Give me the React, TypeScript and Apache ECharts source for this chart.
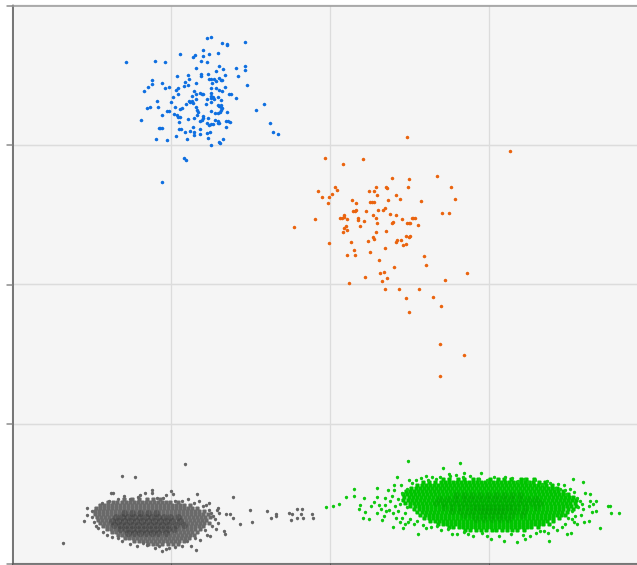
import React, { useEffect, useRef } from "react";
import * as echarts from "echarts";

type P = [number, number];

const xTickStep = 159;
const yTickStep = 139.5;

const blue: P[] = [[195,525],[199,526],[210,520],[215,519],[215,518],[233,521],[114,501],[143,502],[153,501],[168,509],[191,513],[197,509],[206,510],[181,506],[183,508],[191,507],[189,502],[195,501],[207,497],[224,495],[233,497],[233,493],[184,495],[211,494],[204,492],[176,488],[165,487],[189,489],[189,487],[196,489],[213,488],[226,487],[177,484],[197,484],[199,484],[202,484],[207,485],[204,482],[209,483],[210,483],[200,480],[140,483],[140,479],[150,480],[136,476],[157,476],[153,475],[173,481],[172,477],[176,478],[184,480],[199,475],[204,475],[207,473],[210,472],[213,476],[235,478],[132,472],[166,475],[164,473],[166,469],[161,466],[145,462],[159,461],[180,467],[182,472],[184,469],[188,470],[190,469],[191,469],[199,470],[199,467],[201,466],[199,465],[202,464],[206,466],[209,463],[217,469],[219,469],[224,465],[195,464],[184,464],[180,462],[178,461],[174,459],[177,462],[181,460],[194,459],[199,461],[206,458],[207,457],[209,458],[210,455],[209,456],[252,459],[138,456],[135,455],[146,456],[163,456],[168,454],[170,455],[184,456],[185,453],[186,451],[199,452],[209,453],[155,452],[157,452],[244,453],[215,451],[203,450],[206,450],[208,451],[150,448],[162,449],[165,448],[166,446],[168,446],[185,448],[191,447],[191,445],[176,444],[182,445],[196,445],[188,442],[190,443],[203,443],[206,442],[207,440],[214,442],[216,442],[218,441],[129,443],[167,441],[258,440],[195,440],[197,438],[199,439],[201,439],[206,440],[214,436],[147,435],[148,435],[150,435],[181,436],[167,434],[169,434],[173,431],[178,432],[182,431],[188,434],[188,429],[182,428],[195,430],[198,431],[261,431],[266,429],[164,427],[144,424],[155,423],[175,424],[196,425],[211,424],[207,421],[208,420],[199,418],[172,405],[174,403],[150,381]];

const orange: P[] = [[395,426],[498,412],[313,405],[351,404],[331,399],[380,385],[397,384],[425,387],[323,376],[325,373],[306,372],[320,369],[310,366],[317,366],[316,360],[357,372],[362,372],[364,376],[374,376],[375,375],[396,376],[439,376],[365,368],[384,368],[388,364],[376,363],[443,364],[409,362],[340,363],[344,360],[358,361],[360,361],[362,361],[373,355],[371,353],[366,353],[354,352],[344,353],[343,352],[341,352],[430,350],[437,350],[378,349],[384,348],[361,348],[364,345],[332,348],[332,346],[330,345],[328,345],[335,344],[346,345],[346,343],[352,342],[303,344],[390,344],[400,345],[401,345],[403,345],[381,341],[380,340],[365,340],[395,340],[397,340],[398,340],[406,338],[282,336],[348,337],[334,337],[332,335],[335,333],[331,331],[364,331],[374,332],[361,326],[362,324],[356,322],[394,327],[398,327],[397,326],[385,323],[389,323],[384,321],[394,319],[391,318],[339,321],[317,320],[373,315],[342,313],[358,311],[343,308],[335,308],[412,307],[367,303],[414,298],[382,296],[455,290],[372,291],[368,290],[375,285],[353,286],[433,283],[370,282],[337,280],[373,274],[387,274],[407,274],[394,265],[421,266],[429,257],[397,251],[428,219],[452,208],[428,187]];

const grayLoose: P[] = [[173,99],[110,87],[123,86],[51,20],[140,73],[140,70],[133,70],[159,72],[161,69],[185,69],[221,66],[99,70],[101,70],[197,60],[238,53],[255,52],[285,54],[290,54],[300,49],[277,50],[280,49],[289,49],[264,49],[264,47],[259,45],[279,43],[285,45],[291,45],[301,45],[240,41],[228,39],[214,49],[218,49],[221,45],[206,55],[207,50],[212,32],[213,29],[75,55],[75,48],[72,42],[184,13],[179,17],[150,12],[143,15],[118,19],[135,18],[157,15],[163,16],[170,17],[106,25],[95,28],[84,37],[198,27],[195,28],[204,34],[206,40],[201,47],[205,53],[197,53],[191,57],[182,60],[170,62],[163,62],[151,65],[145,65],[126,66],[118,64],[106,64],[97,62],[90,60],[80,52],[80,46],[82,41],[86,35],[91,31],[100,26],[110,22],[125,17],[131,20],[147,17],[154,14],[175,22],[183,25],[188,23],[193,33],[200,37],[203,44],[199,50],[194,58],[187,62],[176,64],[128,68],[112,67],[154,68]];

const grayRows: [number, number[]][] = [
  [64,[112,120,127,135,141,148]],
  [61,[96,101,105,110,114,118,122,126,130,134,138,142,146,150,154,158,166]],
  [58,[88,92,96,100,104,108,112,116,120,124,128,132,136,140,144,148,152,156,160,164,168,172,178]],
  [55,[84,88,92,96,100,104,108,112,116,120,124,128,132,136,140,144,148,152,156,160,164,168,172,176,180,185]],
  [52,[83,87,91,95,99,103,107,111,115,119,123,127,131,135,139,143,147,151,155,159,163,167,171,175,179,183,187,192]],
  [49,[83,87,91,95,99,103,107,111,115,119,123,127,131,135,139,143,147,151,155,159,163,167,171,175,179,183,187,191,196]],
  [46,[85,89,93,97,101,105,109,113,117,121,125,129,133,137,141,145,149,153,157,161,165,169,173,177,181,185,189,193,198]],
  [43,[86,90,94,98,102,106,110,114,118,122,126,130,134,138,142,146,150,154,158,162,166,170,174,178,182,186,190,194]],
  [40,[88,92,96,100,104,108,112,116,120,124,128,132,136,140,144,148,152,156,160,164,168,172,176,180,184,188,192,197]],
  [37,[91,95,99,103,107,111,115,119,123,127,131,135,139,143,147,151,155,159,163,167,171,175,179,183,187,191]],
  [34,[95,99,103,107,111,115,119,123,127,131,135,139,143,147,151,155,159,163,167,171,175,179,183,188]],
  [31,[100,104,108,112,116,120,124,128,132,136,140,144,148,152,156,160,164,168,172,176,180,185]],
  [28,[106,110,114,118,122,126,130,134,138,142,146,150,154,158,162,166,170,174,178,182]],
  [25,[113,117,121,125,129,133,137,141,145,149,153,157,161,165,169,173,177]],
  [22,[122,127,131,135,139,143,147,151,155,159,163,167,172]],
  [19,[136,141,145,150,156,161,166]],
];

const grayCoreRows: [number, number[]][] = [
  [50,[112,120,128,136,144]],
  [46,[104,110,116,122,128,134,140,146,152,158,166]],
  [42,[100,106,112,118,124,130,136,142,148,154,160,168]],
  [38,[102,108,114,120,126,132,138,144,150,156,164,172]],
  [34,[108,114,120,126,132,138,144,150,156,162]],
  [30,[116,122,128,134,140,146,154]],
];

const greenLoose: P[] = [[396,102],[448,100],[431,95],[452,90],[469,90],[385,86],[397,83],[437,89],[561,84],[571,81],[535,82],[342,74],[342,67],[334,66],[365,75],[314,56],[321,57],[327,59],[352,65],[348,58],[347,54],[353,51],[351,45],[357,44],[359,57],[362,61],[365,66],[367,58],[369,54],[365,50],[370,43],[374,52],[376,73],[373,65],[380,67],[382,78],[382,73],[389,78],[383,57],[381,50],[384,45],[381,36],[391,35],[393,39],[406,29],[388,59],[390,45],[398,44],[405,42],[411,38],[425,37],[429,33],[440,29],[445,29],[456,29],[461,27],[475,27],[479,24],[492,22],[505,21],[513,24],[537,22],[555,29],[559,30],[518,27],[528,32],[532,32],[541,36],[553,39],[565,39],[572,41],[577,42],[588,35],[599,50],[607,50],[596,57],[598,57],[584,62],[578,62],[581,59],[577,57],[584,52],[580,51],[571,54],[565,65],[573,70],[578,69],[560,52],[556,45],[554,69],[553,73],[548,74],[543,75],[416,83],[424,84],[438,87],[451,86],[467,84],[475,83],[493,86],[506,82],[516,81],[530,79],[373,58],[378,62],[377,53],[372,47],[386,52],[386,64],[390,70],[393,50],[395,56],[395,74],[400,80],[404,83],[409,85],[414,87],[420,86],[428,86],[444,88],[458,87],[482,86],[500,85],[512,84],[523,83],[538,80],[546,79],[552,78],[558,74],[562,71],[568,62],[570,59],[566,56],[569,48],[563,47],[560,44],[562,41],[550,36],[545,33],[536,30],[524,30],[511,28],[499,29],[487,27],[470,30],[452,31],[436,34],[419,36],[414,35],[402,39],[396,41],[388,41]];

const greenRows: [number, number[]][] = [
  [84,[431,437,446,452,461,466,478,486,492,499,509,514,522]],
  [81,[411,417,423,429,433,437,441,445,449,453,457,461,465,469,473,477,481,485,489,493,497,501,505,509,513,517,521,527,533]],
  [78,[405,410,414,418,422,426,430,434,438,442,446,450,454,458,462,466,470,474,478,482,486,490,494,498,502,506,510,514,518,522,526,530,534,540]],
  [75,[399,404,408,412,416,420,424,428,432,436,440,444,448,452,456,460,464,468,472,476,480,484,488,492,496,500,504,508,512,516,520,524,528,532,536,540,545]],
  [72,[394,398,402,406,410,414,418,422,426,430,434,438,442,446,450,454,458,462,466,470,474,478,482,486,490,494,498,502,506,510,514,518,522,526,530,534,538,542,546,551]],
  [69,[391,395,399,403,407,411,415,419,423,427,431,435,439,443,447,451,455,459,463,467,471,475,479,483,487,491,495,499,503,507,511,515,519,523,527,531,535,539,543,547,551,556]],
  [66,[392,397,401,405,409,413,417,421,425,429,433,437,441,445,449,453,457,461,465,469,473,477,481,485,489,493,497,501,505,509,513,517,521,525,529,533,537,541,545,549,553,557,561]],
  [63,[391,396,400,404,408,412,416,420,424,428,432,436,440,444,448,452,456,460,464,468,472,476,480,484,488,492,496,500,504,508,512,516,520,524,528,532,536,540,544,548,552,556,560,564]],
  [60,[393,398,402,406,410,414,418,422,426,430,434,438,442,446,450,454,458,462,466,470,474,478,482,486,490,494,498,502,506,510,514,518,522,526,530,534,538,542,546,550,554,558,563]],
  [57,[398,403,407,411,415,419,423,427,431,435,439,443,447,451,455,459,463,467,471,475,479,483,487,491,495,499,503,507,511,515,519,523,527,531,535,539,543,547,551,555,559,564]],
  [54,[402,407,411,415,419,423,427,431,435,439,443,447,451,455,459,463,467,471,475,479,483,487,491,495,499,503,507,511,515,519,523,527,531,535,539,543,547,551,556,561]],
  [51,[405,410,414,418,422,426,430,434,438,442,446,450,454,458,462,466,470,474,478,482,486,490,494,498,502,506,510,514,518,522,526,530,534,538,542,546,550,555]],
  [48,[408,413,417,421,425,429,433,437,441,445,449,453,457,461,465,469,473,477,481,485,489,493,497,501,505,509,513,517,521,525,529,533,537,541,545,549,553]],
  [45,[412,417,421,425,429,433,437,441,445,449,453,457,461,465,469,473,477,481,485,489,493,497,501,505,509,513,517,521,525,529,533,537,541,547]],
  [42,[418,423,427,431,435,439,443,447,451,455,459,463,467,471,475,479,483,487,491,495,499,503,507,511,515,519,523,527,531,535,541]],
  [39,[426,431,435,439,443,447,451,455,459,463,467,471,475,479,483,487,491,495,499,503,507,511,515,519,523,527,531,537]],
  [36,[437,441,447,451,455,459,463,467,471,475,479,483,487,491,495,499,503,507,511,515,519,526]],
  [33,[453,458,464,469,474,480,484,490,495,500,505,512]],
];

const greenCoreRows: [number, number[]][] = [
  [68,[444,452,460,468,476,484,492,500,508]],
  [64,[428,436,444,452,458,464,470,476,482,488,494,500,508,516,524]],
  [60,[424,432,440,446,452,458,464,470,476,482,488,494,500,506,512,520,528]],
  [56,[432,440,448,454,460,464,468,472,476,480,484,488,492,496,500,506,514,524]],
  [52,[440,448,456,462,468,472,476,480,484,488,492,498,504,512]],
  [48,[452,460,468,474,480,486,492,500,510]],
  [44,[464,472,480,488,496]],
];

const expand = (rows: [number, number[]][]): P[] =>
  rows.flatMap(([y, xs]) => xs.map((x) => [x, y] as P));

const scatter = (data: P[], color: string, opacity: number, symbol: string, size: number) => ({
  type: "scatter",
  data,
  symbol,
  symbolSize: size,
  silent: true,
  clip: false,
  itemStyle: { color, opacity, borderWidth: 0 },
});

export default function App() {
  const ref = useRef<HTMLDivElement>(null);
  useEffect(() => {
    const chart = echarts.init(ref.current!, undefined, { renderer: "svg" });
    chart.setOption({
      animation: false,
      backgroundColor: "#ffffff",
      grid: {
        show: true,
        left: 12.5,
        top: 5.5,
        width: 636,
        bottom: 1.5,
        backgroundColor: "#f5f5f5",
        borderWidth: 0,
        outerBoundsMode: "none",
        containLabel: false,
      },
      xAxis: [
        {
          type: "value",
          min: 0,
          max: xTickStep * 4,
          interval: xTickStep,
          axisLabel: { show: false },
          axisLine: { show: true, onZero: false, lineStyle: { color: "#555555", width: 1.5 } },
          axisTick: { show: true, length: 2, lineStyle: { color: "#555555" } },
          splitLine: { show: true, lineStyle: { color: "#dcdcdc", width: 1.3 } },
        },
        {
          type: "value",
          position: "top",
          min: 0,
          max: xTickStep * 4,
          interval: xTickStep,
          axisLabel: { show: false },
          axisLine: { show: true, onZero: false, lineStyle: { color: "#999999", width: 1.5 } },
          axisTick: { show: false },
          splitLine: { show: false },
        },
      ],
      yAxis: {
        type: "value",
        min: 0,
        max: yTickStep * 4,
        interval: yTickStep,
        axisLabel: { show: false },
        axisLine: { show: true, onZero: false, lineStyle: { color: "#777777", width: 2 } },
        axisTick: { show: true, length: 6, lineStyle: { color: "#888888", width: 1.5 } },
        splitLine: { show: true, lineStyle: { color: "#dcdcdc", width: 1.3 } },
      },
      series: [
        scatter(expand(grayRows), "#6a6a6a", 1, "roundRect", 4.2),
        scatter(grayLoose, "#666666", 1, "circle", 3.4),
        scatter(expand(grayCoreRows), "#2e2e2e", 0.3, "circle", 7),
        scatter(expand(greenRows), "#00c400", 1, "roundRect", 4.2),
        scatter(greenLoose, "#10c810", 1, "circle", 3.4),
        scatter(expand(greenCoreRows), "#009a00", 0.28, "circle", 7),
        scatter(blue, "#0f6fe0", 1, "circle", 3.6),
        scatter(orange, "#ea640f", 1, "circle", 3.6),
      ],
    });
    return () => chart.dispose();
  }, []);
  return <div ref={ref} style={{ position: "absolute", left: 0, top: 0, width: 637, height: 565 }} />;
}
